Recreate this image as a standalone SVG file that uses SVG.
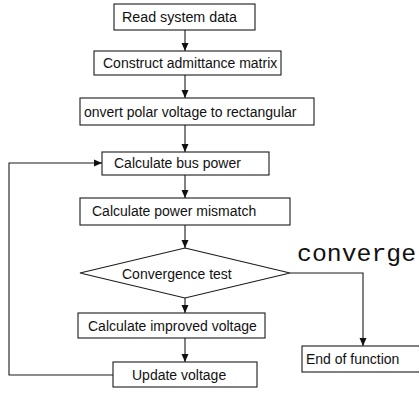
<svg xmlns="http://www.w3.org/2000/svg" width="419" height="397" viewBox="0 0 419 397">
  <style>
    .box { fill: #fff; stroke: #1a1a1a; stroke-width: 1.1; }
    .lbl { font-family: "Liberation Sans", Arial, sans-serif; font-size: 14px; fill: #111; }
    .wire { fill: none; stroke: #1a1a1a; stroke-width: 1.1; }
    .note { font-family: "Liberation Mono", "Courier New", monospace; font-size: 24.8px; fill: #111; }
  </style>
  <defs>
    <marker id="head" viewBox="0 0 8 10" refX="8" refY="5" markerWidth="8" markerHeight="10" markerUnits="userSpaceOnUse" orient="auto">
      <path d="M0,1.5 L8,5 L0,8.5 Z" fill="#111"/>
    </marker>
  </defs>
  <rect width="419" height="397" fill="#fff"/>

  <!-- connectors -->
  <g id="connectors">
    <line class="wire" x1="185" y1="30" x2="185" y2="51" marker-end="url(#head)"/>
    <line class="wire" x1="185" y1="75" x2="185" y2="98" marker-end="url(#head)"/>
    <line class="wire" x1="185" y1="125" x2="185" y2="152" marker-end="url(#head)"/>
    <line class="wire" x1="185" y1="175" x2="185" y2="198" marker-end="url(#head)"/>
    <line class="wire" x1="185" y1="225" x2="185" y2="248" marker-end="url(#head)"/>
    <line class="wire" x1="185" y1="298" x2="185" y2="313" marker-end="url(#head)"/>
    <line class="wire" x1="185" y1="338" x2="185" y2="362" marker-end="url(#head)"/>
    <!-- loop back from update voltage -->
    <polyline class="wire" points="113,375 9,375 9,163 102,163" marker-end="url(#head)"/>
    <!-- converged branch -->
    <polyline class="wire" points="290,273 363,273 363,346" marker-end="url(#head)"/>
  </g>

  <g id="read-data">
    <rect class="box" x="114" y="4" width="141" height="26"/>
    <text class="lbl" x="122" y="22" textLength="115" lengthAdjust="spacingAndGlyphs">Read system data</text>
  </g>
  <g id="admittance">
    <rect class="box" x="94" y="51" width="187" height="24"/>
    <text class="lbl" x="103" y="68" font-size="13.5">Construct admittance matrix</text>
  </g>
  <g id="polar-to-rect">
    <rect class="box" x="80" y="98" width="234" height="27"/>
    <text class="lbl" x="84" y="117">onvert polar voltage to rectangular</text>
  </g>
  <g id="bus-power">
    <rect class="box" x="102" y="152" width="167" height="23"/>
    <text class="lbl" x="114" y="168">Calculate bus power</text>
  </g>
  <g id="mismatch">
    <rect class="box" x="80" y="198" width="210" height="27"/>
    <text class="lbl" x="92" y="216">Calculate power mismatch</text>
  </g>
  <g id="convergence-test">
    <polygon class="box" points="185,248 290,273 185,298 80,273"/>
    <text class="lbl" x="122" y="279">Convergence test</text>
  </g>
  <g id="improved-voltage">
    <rect class="box" x="78" y="313" width="187" height="25"/>
    <text class="lbl" x="88" y="331">Calculate improved voltage</text>
  </g>
  <g id="update-voltage">
    <rect class="box" x="113" y="362" width="144" height="25"/>
    <text class="lbl" x="132" y="380">Update voltage</text>
  </g>
  <g id="end-of-function">
    <rect class="box" x="302" y="346" width="130" height="26"/>
    <text class="lbl" x="306" y="364">End of function</text>
  </g>

  <text class="note" x="297" y="261">converge</text>
</svg>
